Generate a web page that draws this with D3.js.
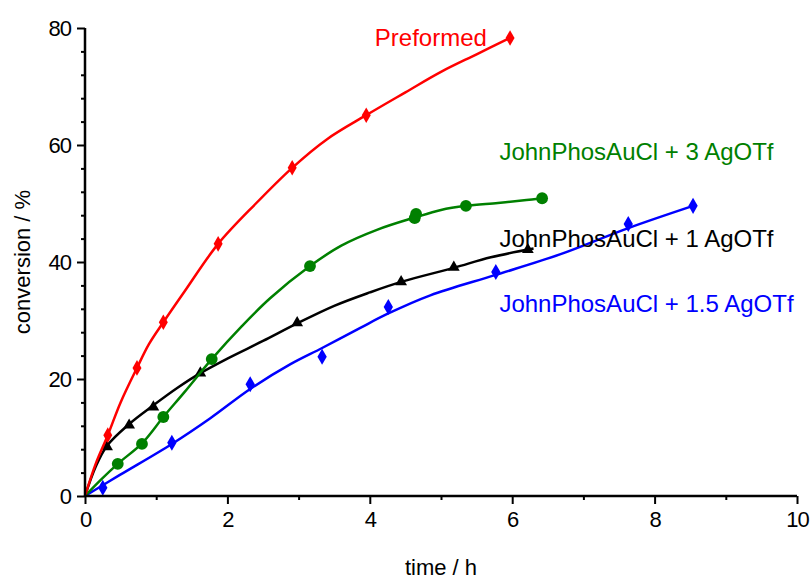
<!DOCTYPE html>
<html>
<head>
<meta charset="utf-8">
<script src="https://cdn.jsdelivr.net/npm/d3@7"></script>
<style>
  body { margin: 0; background: #fff; }
  text { font-family: "Liberation Sans", Arial, sans-serif; }
</style>
</head>
<body>
<svg id="chart"></svg>
<script>
var W = 810, H = 581;

// series: fitted line (t, conv) and measured points
var redLineX = [0, 0.15, 0.32, 0.5, 0.73, 0.9, 1.1, 1.4, 1.87, 2.4, 2.91, 3.4, 3.95, 4.5, 5.0, 5.5, 5.97];
var redLineY = [0, 5.5, 10.4, 16, 21.9, 26, 29.7, 35, 43.1, 50, 56.1, 61, 65.1, 69, 72.5, 75.5, 78.3];
var redPtsX = [0.32, 0.73, 1.10, 1.87, 2.91, 3.95, 5.97];
var redPtsY = [10.4, 21.9, 29.7, 43.1, 56.1, 65.1, 78.3];

var greenLineX = [0, 0.2, 0.46, 0.8, 1.1, 1.4, 1.78, 2.2, 2.6, 3.16, 3.6, 4.1, 4.63, 5.0, 5.35, 5.8, 6.2, 6.42];
var greenLineY = [0, 2.5, 5.5, 9, 13.5, 17.8, 23.4, 29, 33.8, 39.3, 42.8, 45.5, 47.6, 48.9, 49.6, 50.1, 50.6, 50.9];
var greenPtsX = [0.46, 0.80, 1.10, 1.78, 3.16, 4.63, 4.65, 5.35, 6.42];
var greenPtsY = [5.5, 8.9, 13.5, 23.4, 39.3, 47.5, 48.2, 49.6, 50.9];

var blackLineX = [0, 0.15, 0.31, 0.62, 0.96, 1.3, 1.62, 2.0, 2.5, 2.98, 3.5, 4.0, 4.44, 5.18, 5.7, 6.3];
var blackLineY = [0, 5, 8.6, 12.3, 15.5, 18.5, 21, 23.5, 26.5, 29.5, 32.5, 34.8, 36.6, 39.0, 40.8, 42.3];
var blackPtsX = [0.31, 0.62, 0.96, 1.62, 2.98, 4.44, 5.18, 6.22];
var blackPtsY = [8.4, 12.1, 15.2, 21.0, 29.6, 36.6, 39.1, 42.1];

var blueLineX = [0, 0.49, 1.22, 1.76, 2.32, 2.88, 3.33, 3.86, 4.26, 4.85, 5.77, 6.67, 7.63, 8.54];
var blueLineY = [0, 3.6, 8.9, 13.3, 18.3, 22.5, 25.3, 28.7, 31.2, 34.3, 37.8, 41.3, 45.8, 49.6];
var bluePtsX = [0.25, 1.22, 2.32, 3.33, 4.26, 5.77, 7.63, 8.54];
var bluePtsY = [1.4, 9.1, 19.1, 23.8, 32.3, 38.3, 46.5, 49.6];

var labelText = ["Preformed", "JohnPhosAuCl + 3 AgOTf", "JohnPhosAuCl + 1 AgOTf", "JohnPhosAuCl + 1.5 AgOTf"];
var labelX = [4.07, 5.82, 5.82, 5.82];
var labelY = [77.0, 57.5, 42.5, 31.5];

var xTicks = [0, 2, 4, 6, 8, 10];
var yTicks = [0, 20, 40, 60, 80];

var svg = d3.select("#chart").attr("width", W).attr("height", H);

var x = d3.scaleLinear().domain([0, 10]).range([85, 797]);
var y = d3.scaleLinear().domain([0, 80]).range([496, 28]);

function zip(a, b) { return a.map(function(v, i) { return [v, b[i]]; }); }

var line = d3.line()
  .x(function(d) { return x(d[0]); })
  .y(function(d) { return y(d[1]); })
  .curve(d3.curveCatmullRom.alpha(0.5));

var series = [
  { color: "#0000ff", line: zip(blueLineX, blueLineY), pts: zip(bluePtsX, bluePtsY), sym: d3.symbolDiamond, size: 75 },
  { color: "#000000", line: zip(blackLineX, blackLineY), pts: zip(blackPtsX, blackPtsY), sym: d3.symbolTriangle, size: 60 },
  { color: "#008000", line: zip(greenLineX, greenLineY), pts: zip(greenPtsX, greenPtsY), sym: d3.symbolCircle, size: 110 },
  { color: "#ff0000", line: zip(redLineX, redLineY), pts: zip(redPtsX, redPtsY), sym: d3.symbolDiamond, size: 70 }
];

series.forEach(function(s) {
  svg.append("path")
    .attr("d", line(s.line))
    .attr("fill", "none")
    .attr("stroke", s.color)
    .attr("stroke-width", 2.5);
  svg.append("g").selectAll("path").data(s.pts).enter().append("path")
    .attr("d", d3.symbol().type(s.sym).size(s.size))
    .attr("transform", function(d) { return "translate(" + x(d[0]) + "," + y(d[1]) + ")"; })
    .attr("fill", s.color);
});

// axes: major + minor ticks, outward
var xAxis = svg.append("g").attr("transform", "translate(0,496)");
xAxis.call(d3.axisBottom(x).tickValues(d3.range(1, 10, 2)).tickSize(4).tickFormat(""));
xAxis.append("g").call(d3.axisBottom(x).tickValues(xTicks).tickSize(8).tickPadding(6).tickFormat(d3.format("d")));
xAxis.selectAll(".domain").remove();
xAxis.append("line").attr("x1", 85).attr("x2", 797).attr("stroke", "#000").attr("stroke-width", 2.5);

var yAxis = svg.append("g").attr("transform", "translate(85,0)");
yAxis.call(d3.axisLeft(y).tickValues(d3.range(4, 80, 4).filter(function(v) { return v % 20; })).tickSize(4).tickFormat(""));
yAxis.append("g").call(d3.axisLeft(y).tickValues(yTicks).tickSize(8).tickPadding(6).tickFormat(d3.format("d")));
yAxis.selectAll(".domain").remove();
yAxis.append("line").attr("y1", 28).attr("y2", 497).attr("stroke", "#000").attr("stroke-width", 2.5);

svg.selectAll(".tick line").attr("stroke", "#000").attr("stroke-width", 2);
svg.selectAll(".tick text")
  .attr("fill", "#000")
  .style("font-size", "22px")
  .style("letter-spacing", "-1px");
xAxis.selectAll(".tick text").attr("dy", "0.75em");

svg.append("text")
  .attr("x", 441).attr("y", 575)
  .attr("text-anchor", "middle")
  .style("font-size", "22px")
  .text("time / h");

svg.append("text")
  .attr("transform", "translate(30,262) rotate(-90)")
  .attr("text-anchor", "middle")
  .style("font-size", "22px")
  .text("conversion / %");

var labelColors = ["#ff0000", "#008000", "#000000", "#0000ff"];
svg.append("g").selectAll("text").data(labelText).enter().append("text")
  .attr("x", function(d, i) { return x(labelX[i]); })
  .attr("y", function(d, i) { return y(labelY[i]); })
  .attr("fill", function(d, i) { return labelColors[i]; })
  .style("font-size", "24px")
  .style("letter-spacing", "0px")
  .text(function(d) { return d; });
</script>
</body>
</html>
